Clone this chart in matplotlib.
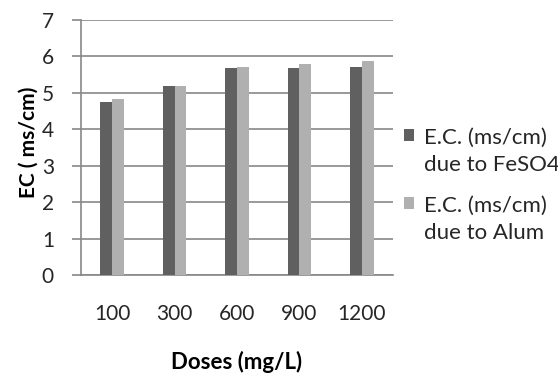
import numpy as np
import matplotlib.pyplot as plt
from matplotlib.patches import Patch, Rectangle
from matplotlib.legend_handler import HandlerPatch

plt.rcParams['font.family'] = ['Lato', 'DejaVu Sans']

doses = ['100', '300', '600', '900', '1200']
ec_feso4 = [4.75, 5.20, 5.67, 5.67, 5.70]
ec_alum = [4.82, 5.20, 5.70, 5.80, 5.88]
series_names = ['E.C. (ms/cm)\ndue to FeSO4', 'E.C. (ms/cm)\ndue to Alum']

dark = '#606060'
light = '#b0b0b0'
grid_col = '#888888'
text_col = '#262626'


class FirstLinePatch(HandlerPatch):
    # put the swatch next to the first line of a two-line label
    def create_artists(self, legend, orig_handle, xdescent, ydescent,
                       width, height, fontsize, trans):
        shift = 0.75 * fontsize
        p = Rectangle((-xdescent, -ydescent + shift), width, height,
                      facecolor=orig_handle.get_facecolor(), edgecolor='none',
                      transform=trans)
        return [p]


fig = plt.figure(figsize=(5.58, 3.73), dpi=100, facecolor='white')
ax = fig.add_axes([81 / 558, 98 / 373, 312 / 558, 255 / 373])

x = np.arange(len(doses))
w = 0.19
ax.bar(x - w / 2, ec_feso4, w, color=dark, zorder=3)
ax.bar(x + w / 2, ec_alum, w, color=light, zorder=3)

ax.set_xlim(-0.5, len(doses) - 0.5)
ax.set_ylim(0, 7)
ax.set_yticks(range(8))
ax.yaxis.grid(True, color=grid_col, linewidth=1.2, zorder=0)

for side in ['top', 'right']:
    ax.spines[side].set_visible(False)
for side in ['left', 'bottom']:
    ax.spines[side].set_color(grid_col)
    ax.spines[side].set_linewidth(1.2)

ax.tick_params(axis='y', length=6.5, width=1.2, color=grid_col, pad=13,
               labelsize=15, labelcolor=text_col)
ax.tick_params(axis='x', length=0, pad=21, labelsize=15, labelcolor=text_col)
ax.set_xticks(x)
ax.set_xticklabels(doses)

ax.set_ylabel('EC ( ms/cm)', fontsize=15, fontweight='bold', color='black')
ax.yaxis.set_label_coords(-0.135, 0.52)
ax.set_xlabel('Doses (mg/L)', fontsize=16, fontweight='bold', color='black', labelpad=19)

handles = [Patch(color=dark), Patch(color=light)]
leg = fig.legend(handles, series_names, loc='upper left',
                 bbox_to_anchor=(388 / 558, 1 - 112 / 373), frameon=False,
                 fontsize=16, labelcolor=text_col, handlelength=0.45, handleheight=0.45,
                 handletextpad=0.45, labelspacing=0.95, borderpad=0.2,
                 handler_map={Patch: FirstLinePatch()})
for t in leg.get_texts():
    t.set_linespacing(1.45)

fig.savefig('out.png', dpi=100, facecolor='white')
